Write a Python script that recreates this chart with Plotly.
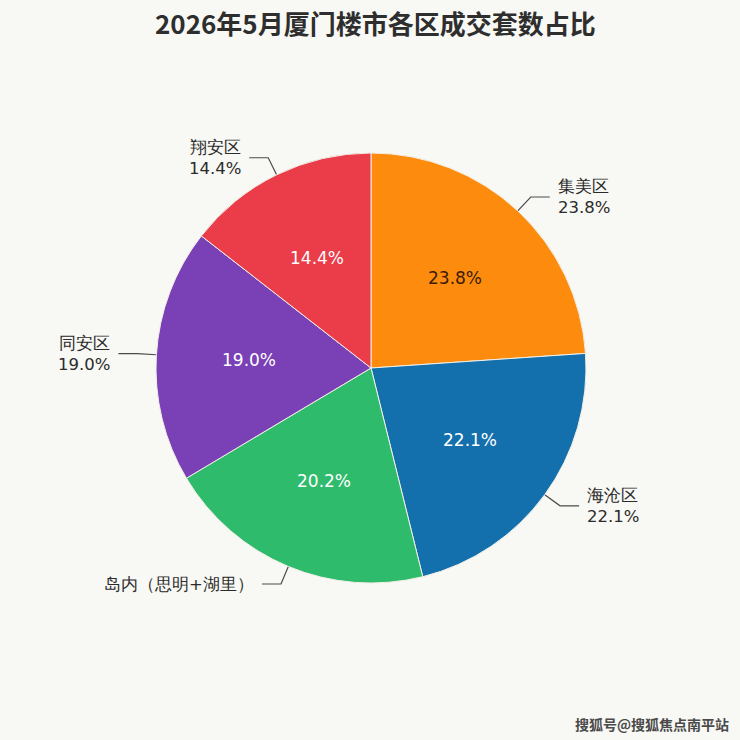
import numpy as np
import plotly.graph_objects as go

districts = ["集美区", "海沧区", "岛内（思明+湖里）", "同安区", "翔安区"]
shares = [23.8, 22.1, 20.2, 19.0, 14.4]
share_text = ["23.8%", "22.1%", "20.2%", "19.0%", "14.4%"]
outer_text = ["集美区<br>23.8%", "海沧区<br>22.1%", "岛内（思明+湖里）", "同安区<br>19.0%", "翔安区<br>14.4%"]
colors = ["#FD8B0D", "#1370AC", "#2EBB6C", "#7A40B6", "#EA3D49"]
inner_font_colors = ["#3A1C05", "white", "white", "white", "white"]

W = H = 740
cx, cy, R = 371, 368, 215
bg = "#F8F8F4"

fig = go.Figure()
fig.add_trace(go.Pie(
    labels=districts, values=shares, sort=False, direction="clockwise", rotation=0,
    marker=dict(colors=colors, line=dict(color="#F2EFE6", width=1)),
    textinfo="none", hoverinfo="label+percent", showlegend=False,
    domain=dict(x=[(cx - R) / W, (cx + R) / W], y=[1 - (cy + R) / H, 1 - (cy - R) / H]),
))

# angles of slice midpoints, measured clockwise from 12 o'clock
vals = np.array(shares)
cum = np.cumsum(vals) - vals / 2
mid = cum / vals.sum() * 2 * np.pi

for i, a in enumerate(mid):
    s, c = np.sin(a), -np.cos(a)
    # percentage inside the slice
    fig.add_annotation(x=cx + 0.57 * R * s, y=cy + 0.57 * R * c, xref="x", yref="y",
                       text=share_text[i], showarrow=False,
                       font=dict(family="DejaVu Sans", size=17, color=inner_font_colors[i]))
    # leader line
    side = 1 if s >= 0 else -1
    x0, y0 = cx + R * s, cy + R * c
    x1, y1 = cx + (R + 19) * s, cy + (R + 19) * c
    x2 = x1 + side * 19
    fig.add_trace(go.Scatter(x=[x0, x1, x2], y=[y0, y1, y1], mode="lines",
                             line=dict(color="#4A4A4A", width=1.2),
                             hoverinfo="skip", showlegend=False))
    fig.add_annotation(x=x2 + side * 6, y=y1, xref="x", yref="y",
                       text=outer_text[i], showarrow=False,
                       xanchor="left" if side > 0 else "right", yanchor="middle",
                       align="left" if side > 0 else "right",
                       font=dict(family="DejaVu Sans", size=16.5, color="#2B2B2B"))

fig.add_annotation(x=0.507, y=1 - 22 / H, xref="paper", yref="paper",
                   xanchor="center", yanchor="middle",
                   text="<b>2026年5月厦门楼市各区成交套数占比</b>", showarrow=False,
                   font=dict(family="Noto Sans CJK SC", size=26, color="#2E2E2E"))
fig.add_annotation(x=652 / W, y=1 - 724 / H, xref="paper", yref="paper",
                   xanchor="center", yanchor="middle",
                   text="<b>搜狐号@搜狐焦点南平站</b>", showarrow=False,
                   font=dict(family="Noto Sans CJK SC", size=14, color="#4A4A4A"))

fig.update_xaxes(range=[0, W], visible=False, fixedrange=True)
fig.update_yaxes(range=[H, 0], visible=False, fixedrange=True)
fig.update_layout(
    width=W, height=H,
    margin=dict(l=0, r=0, t=0, b=0),
    paper_bgcolor=bg, plot_bgcolor="rgba(0,0,0,0)",
    showlegend=False,
)
fig.write_html("out.html", config={"displayModeBar": False},
               post_script="document.body.style.margin='0px';")
